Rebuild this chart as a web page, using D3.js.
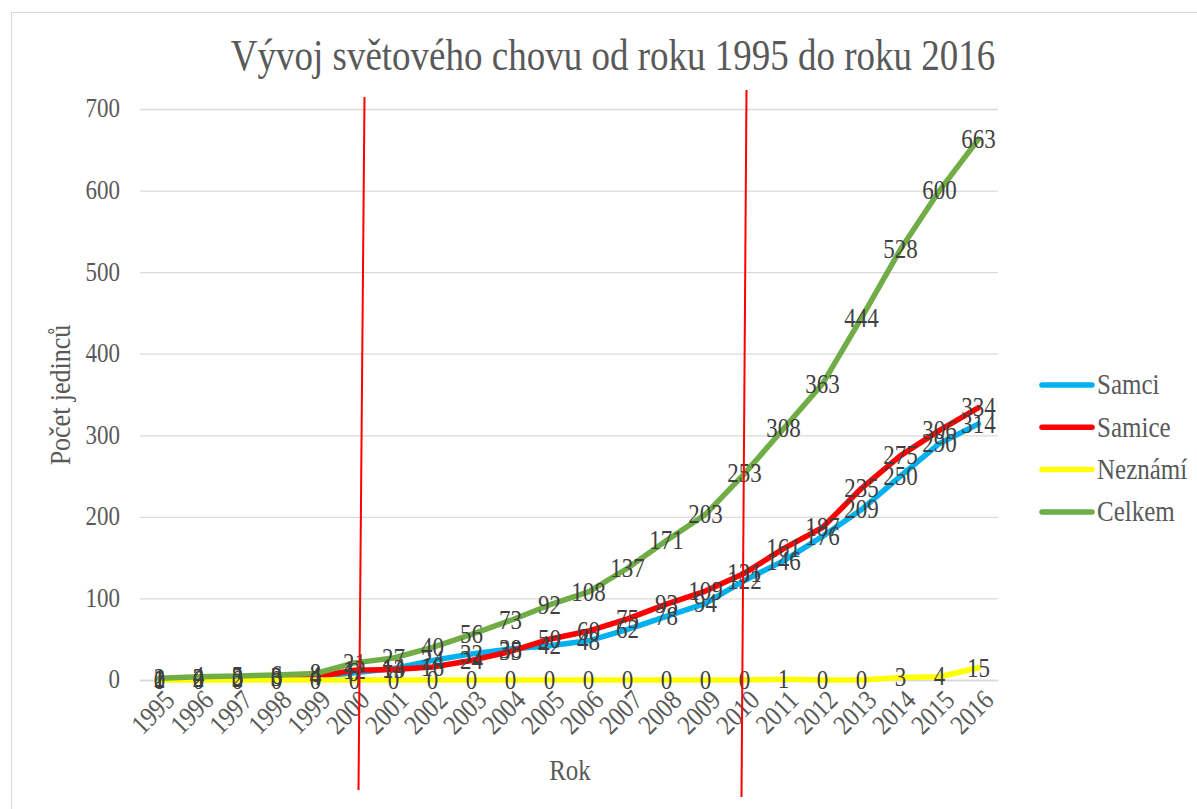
<!DOCTYPE html>
<html lang="cs">
<meta charset="utf-8">
<title>Vývoj světového chovu</title>
<style>
  body { margin: 0; background: #fff; }
  text { font-family: "Times New Roman", "Liberation Serif", serif !important; }
  .tick text { fill: #595959; font-size: 23px; }
  .grid line { stroke: #d9d9d9; stroke-width: 1.3; }
  .lbl { fill: #404040; font-size: 23px; }
</style>
<body>
<script src="https://cdn.jsdelivr.net/npm/d3@7"></script>
<script>
var years = ["1995","1996","1997","1998","1999","2000","2001","2002","2003","2004","2005",
             "2006","2007","2008","2009","2010","2011","2012","2013","2014","2015","2016"];
var samci   = [1,2,3,3,4,9,14,24,32,38,42,48,62,78,94,122,146,176,209,250,290,314];
var samice  = [1,2,2,3,4,12,13,16,24,35,50,60,75,93,109,131,161,187,235,275,306,334];
var neznami = [0,0,0,0,0,0,0,0,0,0,0,0,0,0,0,0,1,0,0,3,4,15];
var celkem  = [2,4,5,6,8,21,27,40,56,73,92,108,137,171,203,253,308,363,444,528,600,663];
var yTicks = [0,100,200,300,400,500,600,700];
var markYears = ["2000","2010"];   // ručně dokreslené červené čáry

var series = [
  {name: "Samci", values: samci, color: "#00b0f0"},
  {name: "Samice", values: samice, color: "#ff0000"},
  {name: "Neznámí", values: neznami, color: "#ffff00"},
  {name: "Celkem", values: celkem, color: "#70ad47"}
];

var W = 1197, H = 809;
var pLeft = 140, pRight = 998, pTop = 109, pBottom = 680;

var svg = d3.select("body").append("svg").attr("width", W).attr("height", H);

svg.append("rect").attr("x", 11.5).attr("y", 12.5).attr("width", 1200).attr("height", 820)
  .attr("fill", "none").attr("stroke", "#d9d9d9");

var x = d3.scaleBand().domain(years).range([pLeft, pRight]);
var y = d3.scaleLinear().domain([0, 700]).range([pBottom, pTop]);
var cx = function(d) { return x(d) + x.bandwidth() / 2; };

// grid + y labels
var ga = svg.append("g").attr("class", "grid")
  .attr("transform", "translate(" + pLeft + ",0)")
  .call(d3.axisLeft(y).tickValues(yTicks).tickSize(-(pRight - pLeft)).tickPadding(20));
ga.select(".domain").remove();
ga.selectAll(".tick text").attr("transform", "scale(1,1.15)").attr("y", 0).attr("dy", "0.3em");

// x labels
var gx = svg.append("g").attr("transform", "translate(0," + pBottom + ")")
  .call(d3.axisBottom(x).tickSize(0));
gx.select(".domain").attr("stroke", "#d9d9d9").attr("stroke-width", 1.3);
gx.selectAll(".tick text")
  .style("font-size", "24px")
  .attr("text-anchor", "end")
  .attr("transform", "translate(10,15) rotate(-45) scale(1,1.15)")
  .attr("dy", "0.35em").attr("y", 0);

// axis titles
svg.append("text").attr("transform", "translate(570,780) scale(1,1.15)").attr("text-anchor", "middle")
  .attr("fill", "#595959").style("font-size", "25px").text("Rok");
svg.append("text").attr("transform", "translate(70,395) rotate(-90) scale(1,1.15)").attr("text-anchor", "middle")
  .attr("fill", "#595959").style("font-size", "26px").text("Počet jedinců");

// title
svg.append("text").attr("transform", "translate(613,70) scale(1,1.2)").attr("text-anchor", "middle")
  .attr("fill", "#595959").style("font-size", "37px").text("Vývoj světového chovu od roku 1995 do roku 2016");

var line = d3.line().x(function(d, i) { return cx(years[i]); }).y(function(d) { return y(d); });

series.forEach(function(s) {
  svg.append("path").datum(s.values)
    .attr("d", line).attr("fill", "none")
    .attr("stroke", s.color).attr("stroke-width", 5.5)
    .attr("stroke-linejoin", "round").attr("stroke-linecap", "round");
});

series.forEach(function(s) {
  svg.append("g").selectAll("text").data(s.values).enter().append("text")
    .attr("class", "lbl")
    .attr("transform", function(d, i) { return "translate(" + cx(years[i]) + "," + y(d) + ") scale(1,1.15)"; })
    .attr("dy", "0.33em").attr("text-anchor", "middle")
    .text(function(d) { return d; });
});

// red hand-drawn lines
svg.selectAll(".mark").data(markYears).enter().append("line")
  .attr("x1", function(d, i) { return cx(d) + (i ? 2 : 10); })
  .attr("y1", function(d, i) { return i ? 90 : 97; })
  .attr("x2", function(d, i) { return cx(d) + (i ? -3 : 4); })
  .attr("y2", function(d, i) { return i ? 797 : 790; })
  .attr("stroke", "#ff0000").attr("stroke-width", 2);

// legend
var lg = svg.append("g").attr("transform", "translate(1040,385)");
series.forEach(function(s, i) {
  var g = lg.append("g").attr("transform", "translate(0," + (i * 42.3) + ")");
  g.append("line").attr("x1", 2).attr("x2", 52).attr("stroke", s.color)
    .attr("stroke-width", 5.5).attr("stroke-linecap", "round");
  g.append("text").attr("transform", "translate(57,0) scale(1,1.15)").attr("dy", "0.33em").attr("fill", "#595959")
    .style("font-size", "25px").text(s.name);
});
</script>
</body>
</html>
